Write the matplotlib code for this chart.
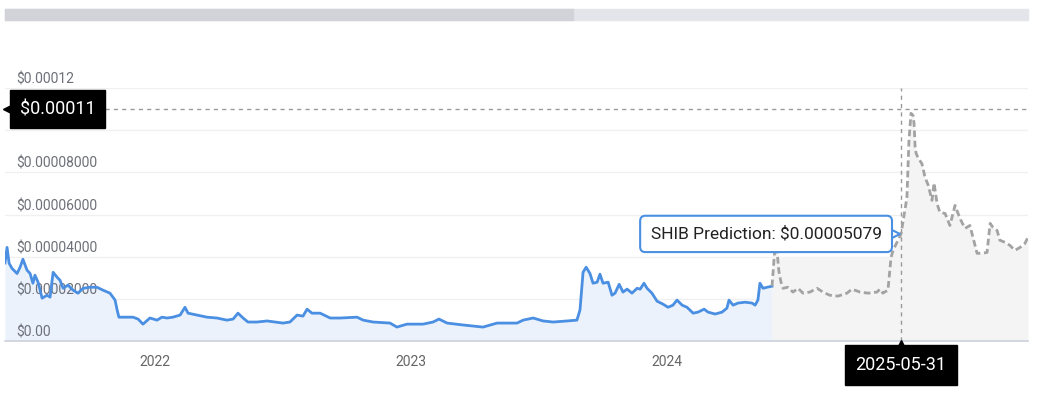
import matplotlib.pyplot as plt
import numpy as np
from matplotlib.patches import Rectangle
from matplotlib.transforms import offset_copy

plt.rcParams["font.family"] = ["Roboto", "DejaVu Sans"]

# price history, x in decimal years, y in units of 1e-5 USD
hist_x = [2021.414, 2021.422, 2021.430, 2021.441, 2021.461, 2021.473, 2021.484, 2021.500,
          2021.512, 2021.523, 2021.531, 2021.543, 2021.559, 2021.578, 2021.590, 2021.602,
          2021.617, 2021.629, 2021.641, 2021.660, 2021.680, 2021.699, 2021.719, 2021.746,
          2021.773, 2021.797, 2021.824, 2021.844, 2021.852, 2021.859, 2021.891, 2021.914,
          2021.934, 2021.953, 2021.980, 2022.008, 2022.027, 2022.047, 2022.070, 2022.098,
          2022.117, 2022.129, 2022.164, 2022.203, 2022.242, 2022.281, 2022.305, 2022.324,
          2022.344, 2022.363, 2022.398, 2022.438, 2022.500, 2022.527, 2022.555, 2022.578,
          2022.594, 2022.613, 2022.645, 2022.684, 2022.723, 2022.789, 2022.813, 2022.852,
          2022.918, 2022.945, 2022.984, 2023.047, 2023.086, 2023.109, 2023.141, 2023.203,
          2023.281, 2023.336, 2023.375, 2023.414, 2023.438, 2023.477, 2023.516, 2023.555,
          2023.609, 2023.648, 2023.660, 2023.672, 2023.684, 2023.699, 2023.711, 2023.727,
          2023.738, 2023.750, 2023.770, 2023.785, 2023.797, 2023.813, 2023.828, 2023.844,
          2023.863, 2023.883, 2023.895, 2023.910, 2023.922, 2023.941, 2023.961, 2023.984,
          2024.004, 2024.023, 2024.039, 2024.059, 2024.078, 2024.102, 2024.121, 2024.145,
          2024.160, 2024.188, 2024.215, 2024.234, 2024.242, 2024.258, 2024.277, 2024.305,
          2024.332, 2024.344, 2024.355, 2024.363, 2024.375, 2024.391, 2024.410]
hist_y = [3.70, 4.44, 3.69, 3.45, 3.20, 3.50, 3.88, 3.36,
          3.20, 2.74, 3.12, 2.79, 2.03, 2.17, 2.08, 3.26,
          3.03, 2.88, 2.50, 2.65, 2.41, 2.27, 2.50, 2.55,
          2.55, 2.41, 2.27, 1.94, 1.47, 1.13, 1.13, 1.13,
          1.04, 0.80, 1.09, 0.99, 1.13, 1.09, 1.13, 1.23,
          1.60, 1.32, 1.23, 1.13, 1.09, 0.99, 1.04, 1.32,
          1.09, 0.90, 0.90, 0.95, 0.85, 0.90, 1.23, 1.18,
          1.51, 1.32, 1.32, 1.09, 1.09, 1.13, 0.99, 0.90,
          0.85, 0.66, 0.80, 0.80, 0.90, 1.04, 0.85, 0.76,
          0.66, 0.85, 0.85, 0.85, 0.99, 1.09, 0.95, 0.90,
          0.95, 0.99, 1.47, 3.26, 3.50, 3.20, 2.74, 2.79,
          3.17, 2.74, 2.79, 2.17, 2.27, 2.69, 2.32, 2.46,
          2.27, 2.50, 2.46, 2.74, 2.50, 2.27, 1.89, 1.75,
          1.60, 1.70, 1.94, 1.70, 1.60, 1.32, 1.37, 1.51,
          1.37, 1.28, 1.37, 1.56, 1.94, 1.70, 1.80, 1.84,
          1.80, 1.70, 1.94, 2.74, 2.50, 2.55, 2.60]

# prediction
pred_x = [2024.410, 2024.422, 2024.430, 2024.437, 2024.445, 2024.453, 2024.472, 2024.492,
          2024.512, 2024.531, 2024.558, 2024.586, 2024.609, 2024.636, 2024.668, 2024.703,
          2024.722, 2024.754, 2024.785, 2024.820, 2024.832, 2024.843, 2024.863, 2024.875,
          2024.883, 2024.914, 2024.937, 2024.945, 2024.953, 2024.961, 2024.965, 2024.969,
          2024.973, 2024.980, 2024.996, 2025.008, 2025.020, 2025.035, 2025.043, 2025.055,
          2025.066, 2025.086, 2025.105, 2025.125, 2025.144, 2025.164, 2025.183, 2025.195,
          2025.211, 2025.230, 2025.250, 2025.262, 2025.273, 2025.289, 2025.300, 2025.320,
          2025.339, 2025.359, 2025.379, 2025.398, 2025.410]
pred_y = [2.60, 4.50, 4.20, 3.30, 2.80, 2.50, 2.55, 2.32,
          2.50, 2.27, 2.32, 2.50, 2.32, 2.17, 2.13, 2.27,
          2.46, 2.32, 2.27, 2.32, 2.46, 2.27, 2.41, 3.97,
          4.30, 5.079, 6.80, 9.50, 10.80, 10.70, 10.30, 9.20,
          8.90, 8.70, 8.40, 7.75, 7.40, 6.67, 7.50, 6.50,
          6.10, 6.05, 5.48, 6.43, 5.82, 5.34, 5.48, 4.92,
          4.16, 4.16, 4.20, 5.58, 5.39, 5.25, 4.78, 4.68,
          4.54, 4.30, 4.44, 4.63, 4.92]

y_ticks = [0, 0.00002, 0.00004, 0.00006, 0.00008, 0.0001, 0.00012]
# the 0.0001 label sits behind the max price tag
y_labels = ["$0.00", "$0.00002000", "$0.00004000", "$0.00006000", "$0.00008000",
            "", "$0.00012"]
x_ticks = [2022, 2023, 2024]
x_labels = ["2022", "2023", "2024"]

max_price = 0.00011
hover_x = 2024.914
hover_y = 0.00005079
hover_date = "2025-05-31"
band_top = 0.00004

hist_y = np.array(hist_y) * 1e-5
pred_y = np.array(pred_y) * 1e-5

fig = plt.figure(figsize=(10.58, 3.96), dpi=100)
ax = fig.add_axes([5 / 1058, 55 / 396, 1023 / 1058, 253 / 396])

# scrollbar at the top
fig.patches.append(Rectangle((5 / 1058, 376 / 396), 1023 / 1058, 11 / 396,
                             transform=fig.transFigure, color="#e4e5ea", zorder=0))
fig.patches.append(Rectangle((5 / 1058, 376 / 396), 568 / 1058, 11 / 396,
                             transform=fig.transFigure, color="#d2d3d8", zorder=1))

ax.fill_between(hist_x, 0, hist_y, color="#ebf2fc", lw=0, zorder=1)
ax.fill_between(pred_x, 0, np.maximum(pred_y, band_top), color="#f4f4f4", lw=0, zorder=1)
ax.plot(hist_x, hist_y, color="#4a8fe2", lw=2.0, zorder=3, solid_joinstyle="round")
ax.plot(pred_x, pred_y, color="#a3a3a3", lw=2.0, dashes=(2.4, 1.3), zorder=3)

ax.set_xlim(hist_x[0], pred_x[-1])
ax.set_ylim(0, 0.00012)
for s in ["top", "left", "right"]:
    ax.spines[s].set_visible(False)
ax.spines["bottom"].set_color("#ccd1dc")
ax.spines["bottom"].set_linewidth(1.2)

ax.set_yticks(y_ticks)
ax.set_yticklabels([])
ax.tick_params(axis="y", length=0)
ax.grid(axis="y", color="#f0f0f0", lw=1)
ax.set_axisbelow(True)
for v, lab in zip(y_ticks, y_labels):
    ax.annotate(lab, (0, v), xycoords=("axes fraction", "data"), xytext=(8, 1),
                textcoords="offset points", ha="left", va="bottom",
                fontsize=10, color="#6e7079", zorder=2)

ax.set_xticks(x_ticks)
ax.set_xticklabels(x_labels)
ax.tick_params(axis="x", length=0, pad=10, labelsize=10, labelcolor="#666666")

# crosshairs
ax.axhline(max_price, color="#9a9a9a", lw=1, dashes=(3, 3), zorder=2)
ax.axvline(hover_x, color="#9a9a9a", lw=1, dashes=(3, 3), zorder=2)

# max price tag on the left
ax.annotate("$0.00011", (0, max_price), xycoords=("axes fraction", "data"),
            xytext=(10.5, 0), textcoords="offset points", ha="left", va="center",
            fontsize=13, color="white", zorder=6,
            bbox=dict(boxstyle="square,pad=0.55", fc="black", ec="black"))
ax.plot([0], [max_price], marker="<", color="black", ms=7, clip_on=False, zorder=6,
        transform=offset_copy(ax.get_yaxis_transform(), fig, x=2, units="points"))

# date tag under the axis
ax.annotate(hover_date, (hover_x, 0), xycoords="data", xytext=(0, -17.5),
            textcoords="offset points", ha="center", va="center",
            fontsize=13, color="white", zorder=6, annotation_clip=False,
            bbox=dict(boxstyle="square,pad=0.6", fc="black", ec="black"))
ax.plot([hover_x], [0], marker="^", color="black", ms=7, clip_on=False, zorder=6,
        transform=offset_copy(ax.transData, fig, y=-3, units="points"))

# tooltip
ax.annotate("SHIB Prediction: $0.00005079", (hover_x, hover_y), xycoords="data",
            xytext=(-14, 0), textcoords="offset points", ha="right", va="center",
            fontsize=12.5, color="#222222", zorder=7,
            bbox=dict(boxstyle="round,pad=0.6,rounding_size=0.3", fc="white",
                      ec="#4a8fe2", lw=1.5))
ax.plot([hover_x], [hover_y], marker=">", ms=8, mfc="white", mec="#4a8fe2", mew=1.5,
        zorder=6, transform=offset_copy(ax.transData, fig, x=-5, units="points"))

fig.savefig("out.png", dpi=100)
